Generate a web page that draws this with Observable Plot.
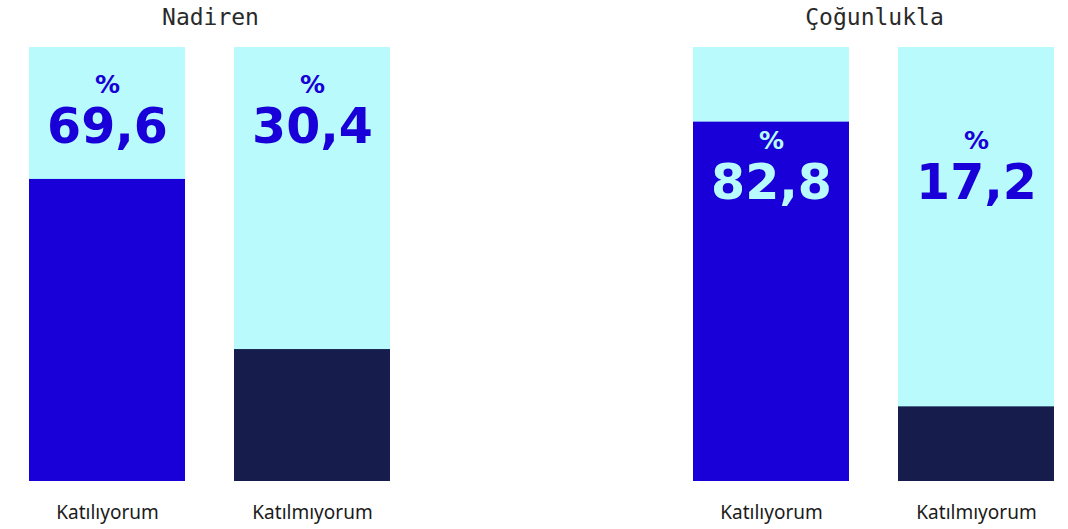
<!DOCTYPE html>
<html><head><meta charset="utf-8">
<script src="https://cdn.jsdelivr.net/npm/d3@7"></script>
<script src="https://cdn.jsdelivr.net/npm/@observablehq/plot@0.6"></script>
<style>body{margin:0;background:#fff}</style>
</head><body><div id="chart"></div>
<script>
const groups = ["Nadiren", "Çoğunlukla"];
const categories = ["Katılıyorum", "Katılmıyorum"];
const nadirenValues = [69.6, 30.4];
const cogunluklaValues = [82.8, 17.2];

const seriesByGroup = [nadirenValues, cogunluklaValues];
const data = groups.flatMap((g, gi) => categories.map((c, ci) => ({group: g, category: c, value: seriesByGroup[gi][ci]})));

// where the value label sits in each group (y units)
const labelLevel = new Map([["Nadiren", 77.9], ["Çoğunlukla", 65.2]]);
const labels = data.map(d => ({...d, ly: labelLevel.get(d.group)}));

const CYAN = "#b9fbfc", BLUE = "#1a00d8", NAVY = "#161c4b";
const fmt = v => v.toFixed(1).replace(".", ",");

const chart = Plot.plot({
  width: 1068,
  height: 529,
  marginTop: 47,
  marginBottom: 48,
  marginLeft: 28,
  marginRight: 12,
  style: {fontFamily: "'Noto Sans', sans-serif", background: "#fff"},
  fx: {domain: groups, paddingInner: 0.4541, paddingOuter: 0},
  x: {domain: categories, paddingInner: 0.2379, paddingOuter: 0},
  y: {domain: [0, 100], axis: null},
  color: {domain: categories, range: [BLUE, NAVY]},
  marks: [
    Plot.barY(data, {fx: "group", x: "category", y: 100, fill: CYAN}),
    Plot.barY(data, {fx: "group", x: "category", y: "value", fill: "category"}),
    Plot.text(labels, {fx: "group", x: "category", y: "ly", text: () => "%", lineAnchor: "bottom", dy: -50,
      fontFamily: "DejaVu Sans", fontWeight: "bold", fontSize: 25,
      fill: d => d.ly < d.value ? CYAN : BLUE}),
    Plot.text(labels, {fx: "group", x: "category", y: "ly", text: d => fmt(d.value), lineAnchor: "bottom",
      fontFamily: "DejaVu Sans", fontWeight: "bold", fontSize: 49,
      fill: d => d.ly < d.value ? CYAN : BLUE}),
    Plot.axisFx({anchor: "top", tickSize: 0, tickPadding: 23, label: null,
      fontFamily: "DejaVu Sans Mono", fontSize: 23, fill: "#2a2a2a"}),
    Plot.axisX({anchor: "bottom", tickSize: 0, tickPadding: 24, label: null,
      fontSize: 19, fill: "#1a1a1a"})
  ]
});
document.getElementById("chart").appendChild(chart);
</script>
</body></html>
